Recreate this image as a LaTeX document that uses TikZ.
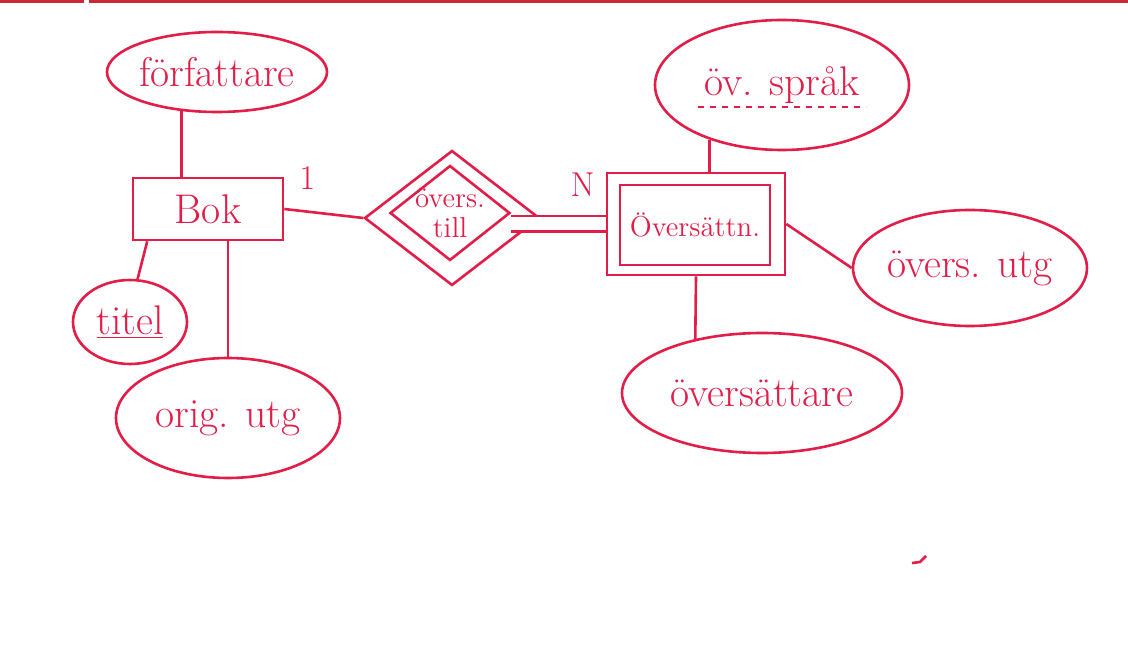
\documentclass[tikz,border=0pt]{standalone}
\usetikzlibrary{shapes.geometric,positioning}
\definecolor{ink}{RGB}{225,29,72}
\definecolor{rule}{RGB}{200,40,55}
\tikzset{
  attr/.style={ellipse, draw=ink, line width=1.3pt, inner sep=0pt, text=ink},
  entity/.style={rectangle, draw=ink, line width=1.3pt, inner sep=0pt, text=ink},
  rel/.style={diamond, draw=ink, line width=1.3pt, inner sep=0pt, text=ink},
  link/.style={draw=ink, line width=1.3pt},
}

\begin{document}
\begin{tikzpicture}[x=0.5pt, y=-0.5pt, font=\huge]
    \useasboundingbox (0,0) rectangle (1128,651);
    \draw[rule, line width=1.5pt] (0,1.5) -- (84,1.5);
    \draw[rule, line width=1.5pt] (89,1.5) -- (1128,1.5);

    % Bok and its attributes
    \node[entity, minimum width=75pt, minimum height=31pt] (bok) at (208,209) {Bok};
    \node[attr, minimum width=108pt, minimum height=40pt] (forf) at (217,72) {författare};
    \node[attr, minimum width=57pt, minimum height=42pt] (titel) at (130,322) {\underline{titel}};
    \node[attr, minimum width=112pt, minimum height=60pt] (orig) at (228,418) {orig. utg};

    \draw[link] (forf.228) -- (forf.228 |- bok.north);
    \draw[link] (bok.208) -- (titel.80);
    \draw[link] (bok.south -| orig.north) -- (orig.north);

    % relationship
    \node[rel, minimum width=87.5pt, minimum height=67.5pt] (relout) at (452,218) {};
    \node[rel, minimum width=60pt, minimum height=47.5pt] (relin) at (450,213) {};
    \node[text=ink, font=\Large, align=center, inner sep=0pt] (reltext) at (relin.center) {övers.\\[-3pt]till};

    % Översättn. and its attributes
    \node[entity, minimum width=89pt, minimum height=51pt] (outer) at (696,224) {};
    \node[entity, minimum width=75pt, minimum height=40pt, font=\Large] (oversattn) at (695,225) {Översättn.};
    \node[attr, minimum width=127pt, minimum height=65pt] (sprak) at (782,85) {öv. språk};
    \draw[ink, line width=0.9pt, dashed] ([xshift=-42pt, yshift=-11pt]sprak.center) -- ([xshift=42pt, yshift=-11pt]sprak.center);
    \node[attr, minimum width=115pt, minimum height=58pt] (utg) at (970,268) {övers. utg};
    \node[attr, minimum width=140pt, minimum height=60pt] (oversattare) at (762,393) {översättare};

    \draw[link] (sprak.217) -- (sprak.217 |- outer.north);
    \draw[link] (outer.east) -- (utg.west);
    \draw[link] (outer.south) -- (oversattare.141);

    % connections and cardinalities
    \draw[link] (bok.east) -- (relout.west);
    \draw[link, double=white, double distance=6.5pt] (outer.west -| relin.east) -- (outer.west);
    \node[text=ink, font=\LARGE, above right=6pt and 4pt of bok.east] (one) {1};
    \node[text=ink, font=\LARGE, above left=10pt and 2pt of outer.west] (many) {N};

    \draw[link] (912,563) -- (920,562) -- (926,556);
\end{tikzpicture}
\end{document}
